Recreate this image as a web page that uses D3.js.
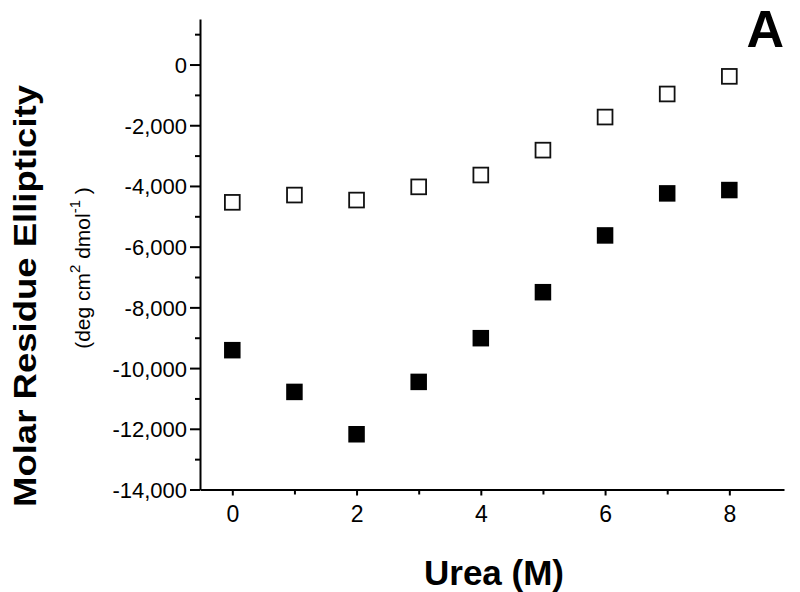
<!DOCTYPE html>
<html>
<head>
<meta charset="utf-8">
<script src="https://cdn.jsdelivr.net/npm/d3@7"></script>
<style>
  body { margin: 0; background: #fff; }
  svg { display: block; font-family: "Liberation Sans", Arial, sans-serif; }
  .axis path, .axis line { stroke: #000; stroke-width: 2; }
  .axis text { fill: #000; }
</style>
</head>
<body>
<div id="chart"></div>
<script>
// Urea denaturation, molar residue ellipticity
const urea = [0, 1, 2, 3, 4, 5, 6, 7, 8];
const filledSeries = [-9410, -10785, -12180, -10455, -9015, -7500, -5630, -4245, -4135];
const openSeries = [-4540, -4300, -4465, -4030, -3640, -2820, -1730, -970, -390];
const yMajorTicks = [-14000, -12000, -10000, -8000, -6000, -4000, -2000, 0];
const yMinorTicks = [-13000, -11000, -9000, -7000, -5000, -3000, -1000, 1000];
const xMajorTicks = [0, 2, 4, 6, 8];
const xMinorTicks = [1, 3, 5, 7];

const W = 800, H = 592;
const svg = d3.select("#chart").append("svg")
    .attr("width", W)
    .attr("height", H);

const x = d3.scaleLinear().domain([-0.52, 8.88]).range([200, 784]);
const y = d3.scaleLinear().domain([-14000, 1500]).range([489.5, 19]);

const fmt = d => d3.format(",")(d).replace("\u2212", "-");

// minor ticks first, then the major axes on top
svg.append("g")
    .attr("class", "axis")
    .attr("transform", `translate(${x.range()[0]},0)`)
    .call(d3.axisLeft(y).tickValues(yMinorTicks).tickSize(5).tickFormat(""))
    .call(g => g.select(".domain").remove());

svg.append("g")
    .attr("class", "axis")
    .attr("transform", `translate(0,${y.range()[0]})`)
    .call(d3.axisBottom(x).tickValues(xMinorTicks).tickSize(5).tickFormat(""))
    .call(g => g.select(".domain").remove());

svg.append("g")
    .attr("class", "axis")
    .attr("transform", `translate(${x.range()[0]},0)`)
    .call(d3.axisLeft(y).tickValues(yMajorTicks).tickSize(10).tickPadding(3).tickSizeOuter(0).tickFormat(fmt))
    .call(g => g.selectAll("text").style("font-size", "22px").attr("dy", "0.36em"));

svg.append("g")
    .attr("class", "axis")
    .attr("transform", `translate(0,${y.range()[0]})`)
    .call(d3.axisBottom(x).tickValues(xMajorTicks).tickSize(6).tickPadding(10).tickSizeOuter(0))
    .call(g => g.selectAll("text").style("font-size", "23px"));

// markers
svg.selectAll(".filled")
    .data(urea)
    .enter()
    .append("rect")
    .attr("class", "filled")
    .attr("x", (d, i) => x(d) - 8.25)
    .attr("y", (d, i) => y(filledSeries[i]) - 8.25)
    .attr("width", 16.5)
    .attr("height", 16.5)
    .attr("fill", "#000");

svg.selectAll(".open")
    .data(urea)
    .enter()
    .append("rect")
    .attr("class", "open")
    .attr("x", (d, i) => x(d) - 7.4)
    .attr("y", (d, i) => y(openSeries[i]) - 7.4)
    .attr("width", 14.8)
    .attr("height", 14.8)
    .attr("fill", "#fff")
    .attr("stroke", "#111")
    .attr("stroke-width", 1.8);

// titles
svg.append("text")
    .attr("x", 494)
    .attr("y", 585)
    .attr("text-anchor", "middle")
    .style("font-size", "35px")
    .style("font-weight", "bold")
    .text("Urea (M)");

svg.append("text")
    .attr("transform", "translate(36,296) rotate(-90)")
    .attr("text-anchor", "middle")
    .attr("textLength", 422)
    .attr("lengthAdjust", "spacingAndGlyphs")
    .style("font-size", "32px")
    .style("font-weight", "bold")
    .text("Molar Residue Ellipticity");

const sub = svg.append("text")
    .attr("transform", "translate(90,268) rotate(-90)")
    .attr("text-anchor", "middle")
    .style("font-size", "21px");
sub.append("tspan").text("(deg cm");
sub.append("tspan").attr("dy", -10).style("font-size", "15px").text("2");
sub.append("tspan").attr("dy", 10).text(" dmol");
sub.append("tspan").attr("dy", -10).style("font-size", "15px").text("-1");
sub.append("tspan").attr("dy", 10).text(" )");

svg.append("text")
    .attr("x", 784)
    .attr("y", 47)
    .attr("text-anchor", "end")
    .style("font-size", "52px")
    .style("font-weight", "bold")
    .text("A");
</script>
</body>
</html>
